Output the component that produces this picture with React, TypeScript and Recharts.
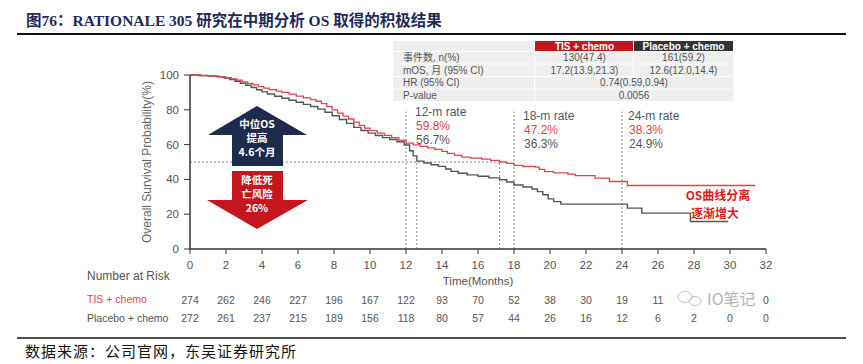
import React from 'react';
import { LineChart, Line, XAxis, YAxis, ReferenceLine } from 'recharts';

// x轴刻度（月）与y轴刻度（%）
const months = [0, 2, 4, 6, 8, 10, 12, 14, 16, 18, 20, 22, 24, 26, 28, 30, 32];
const survivalTicks = [0, 20, 40, 60, 80, 100];

// KM曲线：[月, 生存率%]
const tisSteps: [number, number][] = [
  [0, 100], [0.6, 99.6], [1.2, 99.3], [1.6, 98.9], [2.0, 98.5], [2.3, 97.8], [2.6, 97.0],
  [2.9, 96.1], [3.2, 95.2], [3.5, 94.3], [3.8, 93.3], [4.1, 92.4], [4.4, 91.6], [4.8, 90.7],
  [5.1, 90.0], [5.5, 89.0], [5.9, 87.9], [6.3, 86.8], [6.7, 85.8], [7.0, 84.9], [7.3, 83.5],
  [7.6, 81.8], [7.9, 79.9], [8.2, 78.1], [8.5, 76.4], [8.8, 74.7], [9.1, 72.9], [9.4, 71.1],
  [9.7, 69.5], [10.0, 68.0], [10.4, 66.6], [10.8, 65.3], [11.2, 64.0], [11.6, 62.6], [12.0, 60.9],
  [12.4, 59.8], [12.8, 59.0], [13.2, 58.1], [13.6, 57.2], [14.0, 56.1], [14.3, 54.9], [14.7, 53.8],
  [15.1, 52.8], [15.6, 52.2], [16.2, 51.6], [16.7, 50.9], [17.2, 50.0], [17.6, 49.2], [18.0, 48.1],
  [18.5, 47.4], [19.2, 47.0], [19.4, 45.8], [19.7, 44.5], [20.2, 43.8], [21.0, 43.0], [21.4, 42.2],
  [22.5, 40.7], [23.3, 38.8], [24.3, 36.5], [31.4, 36.5],
];

const placeboSteps: [number, number][] = [
  [0, 100], [0.5, 99.7], [1.0, 99.4], [1.5, 99.0], [1.9, 98.3], [2.2, 97.4], [2.5, 96.4],
  [2.8, 95.3], [3.1, 94.1], [3.4, 92.8], [3.7, 91.5], [4.0, 90.3], [4.3, 89.1], [4.7, 87.8],
  [5.1, 86.6], [5.5, 85.5], [5.9, 84.3], [6.3, 83.1], [6.7, 81.9], [7.1, 80.4], [7.5, 78.6],
  [7.9, 76.6], [8.3, 74.4], [8.7, 72.2], [9.1, 69.9], [9.5, 68.1], [9.9, 66.6], [10.3, 65.2],
  [10.7, 64.0], [11.1, 62.9], [11.5, 61.6], [11.9, 59.8], [12.2, 56.5], [12.4, 53.5], [12.6, 50.5],
  [13.0, 49.4], [13.4, 48.4], [13.8, 47.5], [14.2, 46.0], [14.5, 44.6], [14.9, 43.5], [15.4, 42.6],
  [16.0, 41.8], [16.6, 40.9], [17.2, 39.8], [17.6, 38.5], [18.0, 36.8], [18.5, 35.6], [19.0, 34.5],
  [19.3, 33.0], [19.6, 31.2], [19.9, 28.8], [20.2, 27.2], [20.6, 25.8], [24.3, 23.5], [25.1, 20.6],
  [27.8, 15.8], [29.9, 15.8],
];

// Number at Risk（28、30月的TIS数值被水印遮挡）
const riskTis = ['274', '262', '246', '227', '196', '167', '122', '93', '70', '52', '38', '30', '19', '11', '', '', '0'];
const riskPlacebo = ['272', '261', '237', '215', '189', '156', '118', '80', '57', '44', '26', '16', '12', '6', '2', '0', '0'];

// 右上角表格
const tableRows = [
  { label: '事件数, n(%)', tis: '130(47.4)', placebo: '161(59.2)' },
  { label: 'mOS, 月 (95% CI)', tis: '17.2(13.9,21.3)', placebo: '12.6(12.0,14.4)' },
  { label: 'HR (95% CI)', both: '0.74(0.59,0.94)' },
  { label: 'P-value', both: '0.0056' },
];

// 里程碑生存率
const milestones = [
  { x: 415, title: '12-m rate', tis: '59.8%', placebo: '56.7%', y: 112 },
  { x: 523, title: '18-m rate', tis: '47.2%', placebo: '36.3%', y: 116 },
  { x: 628, title: '24-m rate', tis: '38.3%', placebo: '24.9%', y: 116 },
];

const tisData = tisSteps.map(([t, s]) => ({ t, s }));
const placeboData = placeboSteps.map(([t, s]) => ({ t, s }));

const SANS = "'Liberation Sans', Arial, 'Noto Sans CJK SC', sans-serif";
const SERIF = "'Liberation Serif', 'Times New Roman', 'Noto Sans CJK SC', serif";
const CJK = "'Noto Sans CJK SC', sans-serif";
const RED = '#E0444B';
const GREY = '#555555';
const DOT = '#7f89a0';

// x轴刻度 + 下方的 Number at Risk 两行，共用同一个刻度位置
const TimeTick = (props: any) => {
  const { x, y, payload, index } = props;
  return (
    <g>
      <text x={x} y={y + 9} textAnchor="middle" fontSize={11.5} fill="#555">{payload.value}</text>
      <text x={x} y={y + 44} textAnchor="middle" fontSize={10.5} fill="#555">{riskTis[index]}</text>
      <text x={x} y={y + 62} textAnchor="middle" fontSize={10.5} fill="#555">{riskPlacebo[index]}</text>
    </g>
  );
};

const App: React.FC = () => {
  const tblX = 393, c1 = 535, c2 = 634, c3 = 733;
  const headTop = 41, headH = 10, rowH = 12.5;
  return (
    <div style={{ position: 'relative', width: 863, height: 364, background: '#fff', fontFamily: SANS }}>
      <style>{'body{margin:0}'}</style>
      <div style={{ position: 'absolute', left: 0, top: 0 }}>
        <LineChart width={863} height={364} margin={{ top: 75, right: 97, bottom: 75, left: 130 }} style={{ fontFamily: SANS }}>
          <XAxis
            xAxisId="t" type="number" dataKey="t" domain={[0, 32]} ticks={months} interval={0}
            height={40} tickSize={5} tickMargin={6}
            axisLine={{ stroke: '#333', strokeWidth: 1.5 }} tickLine={{ stroke: '#333' }}
            tick={TimeTick}
            label={{ value: 'Time(Months)', position: 'insideBottom', offset: 4, fill: '#555', fontSize: 11.5 }}
          />
          <YAxis
            yAxisId="s" type="number" domain={[0, 100]} ticks={survivalTicks} width={60}
            tickSize={6} tickMargin={5}
            axisLine={{ stroke: '#333', strokeWidth: 1.5 }} tickLine={{ stroke: '#333' }}
            tick={{ fill: '#555', fontSize: 11.5 }}
            label={{ value: 'Overall Survival Probability(%)', angle: -90, position: 'insideLeft', offset: 17, fill: '#666', fontSize: 12, style: { textAnchor: 'middle' } }}
          />
          {/* 中位OS虚线 */}
          <ReferenceLine xAxisId="t" yAxisId="s" segment={[{ x: 0, y: 50 }, { x: 17.2, y: 50 }]} stroke={DOT} strokeDasharray="2 2" />
          <ReferenceLine xAxisId="t" yAxisId="s" segment={[{ x: 12.6, y: 0 }, { x: 12.6, y: 50 }]} stroke={DOT} strokeDasharray="2 2" />
          <ReferenceLine xAxisId="t" yAxisId="s" segment={[{ x: 17.2, y: 0 }, { x: 17.2, y: 50 }]} stroke={DOT} strokeDasharray="2 2" />
          {/* 12/18/24月虚线 */}
          <ReferenceLine xAxisId="t" yAxisId="s" segment={[{ x: 12, y: 0 }, { x: 12, y: 79 }]} stroke={DOT} strokeDasharray="2 2" />
          <ReferenceLine xAxisId="t" yAxisId="s" segment={[{ x: 18, y: 0 }, { x: 18, y: 79 }]} stroke={DOT} strokeDasharray="2 2" />
          <ReferenceLine xAxisId="t" yAxisId="s" segment={[{ x: 24, y: 0 }, { x: 24, y: 79 }]} stroke={DOT} strokeDasharray="2 2" />
          <Line xAxisId="t" yAxisId="s" data={placeboData} dataKey="s" type="stepAfter" stroke={GREY} strokeWidth={1.4} dot={false} isAnimationActive={false} />
          <Line xAxisId="t" yAxisId="s" data={tisData} dataKey="s" type="stepAfter" stroke={RED} strokeWidth={1.3} dot={false} isAnimationActive={false} />
        </LineChart>
      </div>

      <svg width={863} height={364} style={{ position: 'absolute', left: 0, top: 0, pointerEvents: 'none' }}>
        {/* 标题 */}
        <text x={26} y={26} fontFamily={SERIF} fontWeight="bold" fontSize={15.5} fill="#1F2A56">
          图76：RATIONALE 305 研究在中期分析 OS 取得的积极结果
        </text>
        <line x1={17} x2={846} y1={34} y2={34} stroke="#111" strokeWidth={2} />

        {/* 表格 */}
        <rect x={tblX} y={headTop} width={c1 - tblX - 1} height={headH} fill="#EEEEEE" />
        <rect x={c1} y={headTop} width={c2 - c1 - 1} height={headH} fill="#C4161C" />
        <rect x={c2} y={headTop} width={c3 - c2} height={headH} fill="#333333" />
        <text x={(c1 + c2) / 2} y={headTop + 8.5} textAnchor="middle" fontSize={10} fontWeight="bold" fill="#fff">TIS + chemo</text>
        <text x={(c2 + c3) / 2} y={headTop + 8.5} textAnchor="middle" fontSize={10} fontWeight="bold" fill="#fff">Placebo + chemo</text>
        {tableRows.map((r, i) => {
          const y = headTop + headH + 1 + i * rowH;
          return (
            <g key={r.label}>
              <rect x={tblX} y={y} width={c1 - tblX - 1} height={rowH - 1} fill="#EEEEEE" />
              <text x={tblX + 10} y={y + 9} fontSize={10} fill="#555">{r.label}</text>
              {r.both ? (
                <>
                  <rect x={c1} y={y} width={c3 - c1} height={rowH - 1} fill="#EEEEEE" />
                  <text x={(c1 + c3) / 2} y={y + 9} textAnchor="middle" fontSize={10} fill="#555">{r.both}</text>
                </>
              ) : (
                <>
                  <rect x={c1} y={y} width={c2 - c1 - 1} height={rowH - 1} fill="#EEEEEE" />
                  <rect x={c2} y={y} width={c3 - c2} height={rowH - 1} fill="#EEEEEE" />
                  <text x={(c1 + c2) / 2} y={y + 9} textAnchor="middle" fontSize={10} fill="#555">{r.tis}</text>
                  <text x={(c2 + c3) / 2} y={y + 9} textAnchor="middle" fontSize={10} fill="#555">{r.placebo}</text>
                </>
              )}
            </g>
          );
        })}

        {/* 箭头 */}
        <polygon points="257,106 307,135 283,135 283,166 232,166 232,135 208,135" fill="#1F2B4D" />
        <polygon points="232,171 283,171 283,200 308,200 257,229 207,200 232,200" fill="#C4161C" />
        <g fontFamily={CJK} fontWeight="bold" fontSize={10.5} fill="#fff" textAnchor="middle">
          <text x={257} y={128}>中位OS</text>
          <text x={257} y={142}>提高</text>
          <text x={257} y={156}>4.6个月</text>
          <text x={257} y={184}>降低死</text>
          <text x={257} y={198}>亡风险</text>
          <text x={257} y={212}>26%</text>
        </g>

        {/* 生存率标注 */}
        {milestones.map((m) => (
          <g key={m.title} fontSize={12}>
            <text x={m.x} y={m.y + 4} fill="#4A5670">{m.title}</text>
            <text x={m.x + 1} y={m.y + 18} fill={RED}>{m.tis}</text>
            <text x={m.x + 1} y={m.y + 32} fill={GREY}>{m.placebo}</text>
          </g>
        ))}

        <g fontFamily={CJK} fontWeight="bold" fontSize={12} fill="#E02020" textAnchor="middle">
          <text x={718} y={200}>OS曲线分离</text>
          <text x={715} y={217.5}>逐渐增大</text>
        </g>

        {/* Number at Risk */}
        <text x={87} y={280} fontSize={12} fill="#555">Number at Risk</text>
        <text x={87} y={303} fontSize={10.5} fill={RED}>TIS + chemo</text>
        <text x={87} y={322} fontSize={10.5} fill="#555">Placebo + chemo</text>

        {/* 水印 */}
        <g stroke="#c4c4c4" strokeWidth={1} fill="none">
          <ellipse cx={685} cy={297} rx={7} ry={5.5} />
          <ellipse cx={695} cy={301} rx={6} ry={4.5} />
        </g>
        <text x={707} y={305} fontSize={16} fill="#b5b5b5" fontFamily={CJK}>IO笔记</text>

        {/* 资料来源 */}
        <line x1={17} x2={846} y1={338} y2={338} stroke="#111" strokeWidth={1.6} />
        <text x={25} y={357} fontFamily={SERIF} fontSize={15} letterSpacing={1} fill="#111">数据来源：公司官网，东吴证券研究所</text>
      </svg>
    </div>
  );
};

export default App;
